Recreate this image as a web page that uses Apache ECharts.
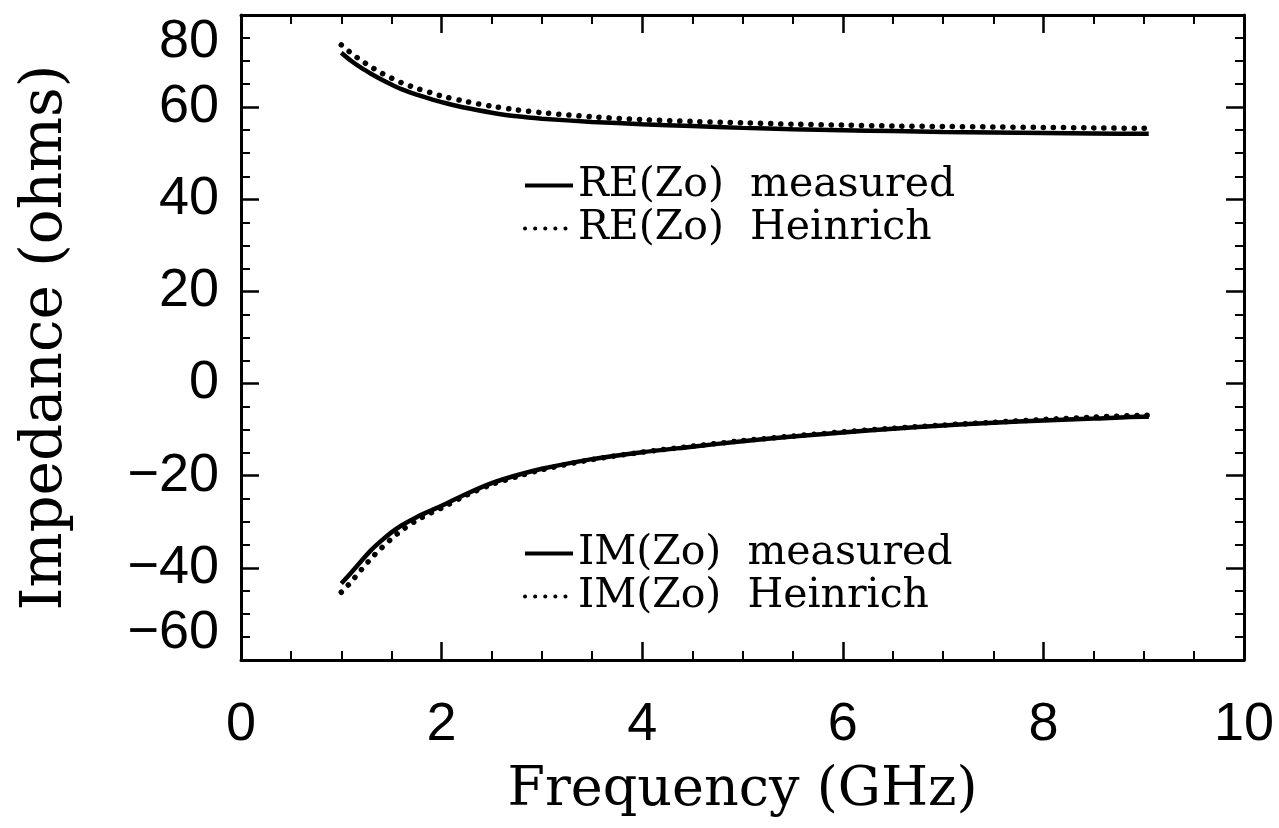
<!DOCTYPE html>
<html>
<head>
<meta charset="utf-8">
<title>Impedance vs Frequency</title>
<script src="https://cdn.jsdelivr.net/npm/echarts@6/dist/echarts.min.js"></script>
<style>
  html, body { margin: 0; padding: 0; background: #fff; }
  #chart { width: 1279px; height: 828px; }
</style>
</head>
<body>
<div id="chart"></div>
<script>
// frequency samples (GHz), shared by the four curves
var freq = [1.0, 1.1, 1.2, 1.3, 1.4, 1.5, 1.6, 1.75, 1.9, 2.0, 2.25, 2.5, 2.75, 3.0,
            3.5, 4.0, 4.5, 5.0, 5.5, 6.0, 6.5, 7.0, 7.5, 8.0, 8.5, 9.0, 9.05];

// RE(Zo), ohms
var reMeasured = [71.8, 70.0, 68.5, 67.2, 66.0, 64.9, 63.9, 62.7, 61.7, 61.1, 59.8, 58.8, 58.0, 57.5,
                  56.8, 56.3, 55.9, 55.5, 55.2, 55.0, 54.8, 54.6, 54.5, 54.4, 54.3, 54.2, 54.2];
var reHeinrich = [73.5, 71.7, 70.1, 68.7, 67.4, 66.3, 65.3, 64.1, 63.1, 62.4, 61.2, 60.2, 59.4, 58.8,
                  57.9, 57.3, 56.9, 56.6, 56.3, 56.1, 55.9, 55.8, 55.7, 55.6, 55.5, 55.4, 55.4];

// IM(Zo), ohms
var imMeasured = [-43.4, -41.0, -38.5, -36.1, -34.1, -32.3, -30.8, -29.0, -27.5, -26.5, -23.9, -21.6, -19.9, -18.5,
                  -16.4, -14.9, -13.7, -12.5, -11.5, -10.6, -9.8, -9.1, -8.5, -8.0, -7.6, -7.2, -7.2];
var imHeinrich = [-45.3, -43.0, -40.4, -37.9, -35.7, -33.7, -31.9, -29.7, -28.0, -27.0, -24.2, -21.9, -20.2, -18.7,
                  -16.5, -14.9, -13.6, -12.4, -11.4, -10.5, -9.7, -9.0, -8.4, -7.8, -7.3, -6.9, -6.9];

var seriesNames = ['RE(Zo)  measured', 'RE(Zo)  Heinrich', 'IM(Zo)  measured', 'IM(Zo)  Heinrich'];

function pairs(vals) {
  return freq.map(function (f, i) { return [f, vals[i]]; });
}

var numFont = 'Liberation Sans';
var textFont = 'DejaVu Serif';

var solid = { color: '#000', width: 4.5, type: 'solid' };
var dots = { color: '#000', width: 5.5, type: [0.1, 10], cap: 'round' };

function xAx(pos) {
  return {
    type: 'value', position: pos, min: 0, max: 10, interval: 2,
    axisLine: { show: true, onZero: false, lineStyle: { color: '#000', width: 3 } },
    axisTick: { show: true, inside: true, length: 18, lineStyle: { color: '#000', width: 2.5 } },
    minorTick: { show: true, splitNumber: 4, length: 9, lineStyle: { color: '#000', width: 2 } },
    splitLine: { show: false },
    axisLabel: { show: pos === 'bottom', fontSize: 54, fontFamily: numFont, color: '#000', margin: 38 },
    name: pos === 'bottom' ? 'Frequency (GHz)' : '',
    nameLocation: 'middle', nameGap: 104,
    nameTextStyle: { fontSize: 54, fontFamily: textFont, color: '#000' }
  };
}

function yAx(pos) {
  return {
    type: 'value', position: pos, min: -60, max: 80, interval: 20,
    axisLine: { show: true, onZero: false, lineStyle: { color: '#000', width: 3 } },
    axisTick: { show: true, inside: true, length: 18, lineStyle: { color: '#000', width: 2.5 } },
    minorTick: { show: true, splitNumber: 4, length: 9, lineStyle: { color: '#000', width: 2 } },
    splitLine: { show: false },
    axisLabel: {
      show: pos === 'left', fontSize: 54, fontFamily: numFont, color: '#000', margin: 22,
      verticalAlignMinLabel: 'bottom', verticalAlignMaxLabel: 'top',
      formatter: function (v) { return String(v).replace('-', '\u2212'); }
    },
    name: pos === 'left' ? 'Impedance (ohms)' : '',
    nameLocation: 'middle', nameGap: 166,
    nameTextStyle: { fontSize: 58, fontFamily: textFont, color: '#000' }
  };
}

function legendBox(names, top) {
  return {
    data: names, orient: 'vertical', left: 518, top: top,
    itemWidth: 48, itemHeight: 14, itemGap: 0,
    selectedMode: false,
    itemStyle: { opacity: 0 },
    lineStyle: { width: 4 },
    textStyle: { fontSize: 41, fontFamily: textFont, color: '#000', lineHeight: 43 }
  };
}

var chart = echarts.init(document.getElementById('chart'));

var option = {
  backgroundColor: '#fff',
  animation: false,
  grid: { left: 241, right: 35, top: 15, bottom: 168 },
  legend: [
    legendBox(seriesNames.slice(0, 2), 159),
    legendBox(seriesNames.slice(2, 4), 527)
  ],
  xAxis: [xAx('bottom'), xAx('top')],
  yAxis: [yAx('left'), yAx('right')],
  series: [
    { name: seriesNames[0], type: 'line', data: pairs(reMeasured), lineStyle: solid },
    { name: seriesNames[1], type: 'line', data: pairs(reHeinrich), lineStyle: dots },
    { name: seriesNames[2], type: 'line', data: pairs(imMeasured), lineStyle: solid },
    { name: seriesNames[3], type: 'line', data: pairs(imHeinrich), lineStyle: dots }
  ].map(function (s) {
    s.showSymbol = false;
    s.symbol = 'none';
    s.smooth = 0.3;
    s.color = '#000';
    s.silent = true;
    return s;
  })
};

chart.setOption(option);
</script>
</body>
</html>
